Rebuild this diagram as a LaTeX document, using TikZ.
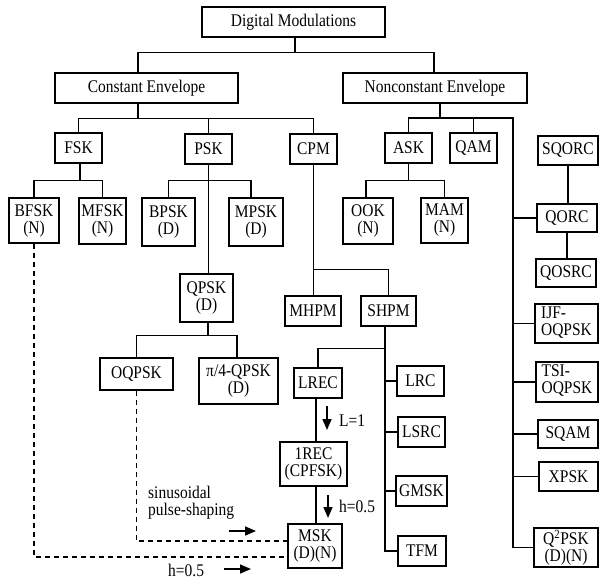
\documentclass[tikz,border=0pt]{standalone}
\usepackage{fontspec}
\setmainfont{Liberation Serif}[FakeStretch=0.87]
\usetikzlibrary{arrows.meta}
\tikzset{
  box/.style={draw, line width=1.4pt, inner sep=0pt, align=center, font=\fontsize{17.8}{17}\selectfont},
  lbl/.style={inner sep=0pt, align=left, anchor=west, font=\fontsize{17.8}{17}\selectfont},
  wire/.style={line width=1.4pt},
  dline/.style={line width=1.4pt, dash pattern=on 5pt off 4pt},
  arr/.style={line width=1.6pt, -{Triangle[length=11pt,width=9pt]}}
}
\begin{document}
\begin{tikzpicture}[x=1pt,y=-1pt]
\useasboundingbox (0,0) rectangle (600,581);
% nodes
\node[box, minimum width=183, minimum height=30] (dm) at (293.5,22) {Digital Modulations};
\node[box, minimum width=183, minimum height=30] (ce) at (146.5,88) {Constant Envelope};
\node[box, minimum width=184, minimum height=30] (ne) at (435,88) {Nonconstant Envelope};
\node[box, minimum width=47, minimum height=30] (fsk) at (78.5,148) {FSK};
\node[box, minimum width=47, minimum height=30] (psk) at (208.5,149) {PSK};
\node[box, minimum width=47, minimum height=30] (cpm) at (313.5,149) {CPM};
\node[box, minimum width=47, minimum height=30] (ask) at (408.5,148) {ASK};
\node[box, minimum width=47, minimum height=30] (qam) at (473.5,148) {QAM};
\node[box, minimum width=60, minimum height=29] (sqorc) at (568,150.5) {SQORC};
\node[box, minimum width=50, minimum height=45] (bfsk) at (34,220.5) {BFSK\\(N)};
\node[box, minimum width=47, minimum height=46] (mfsk) at (102.5,221) {MFSK\\(N)};
\node[box, minimum width=53, minimum height=48] (bpsk) at (168.5,222) {BPSK\\(D)};
\node[box, minimum width=54, minimum height=48] (mpsk) at (256,222) {MPSK\\(D)};
\node[box, minimum width=50, minimum height=46] (ook) at (368,221) {OOK\\(N)};
\node[box, minimum width=47, minimum height=45] (mam) at (444.5,220.5) {MAM\\(N)};
\node[box, minimum width=60, minimum height=28] (qorc) at (567,218) {QORC};
\node[box, minimum width=60, minimum height=28] (qosrc) at (566,273) {QOSRC};
\node[box, minimum width=53, minimum height=48] (qpsk) at (206.5,298) {QPSK\\(D)};
\node[box, minimum width=56, minimum height=30] (mhpm) at (313,311) {MHPM};
\node[box, minimum width=55, minimum height=30] (shpm) at (388.5,311) {SHPM};
\node[box, minimum width=63, minimum height=39] (ijf) at (566.5,323.5) {\begin{tabular}{@{}l@{}}IJF-\\OQPSK\end{tabular}};
\node[box, minimum width=73, minimum height=32] (oqpsk) at (136.5,374) {OQPSK};
\node[box, minimum width=79, minimum height=46] (pi4) at (238.5,381) {π/4-QPSK\\(D)};
\node[box, minimum width=48, minimum height=30] (lrec) at (318,383) {LREC};
\node[box, minimum width=47, minimum height=30] (lrc) at (420.5,381) {LRC};
\node[box, minimum width=62, minimum height=40] (tsi) at (567,382) {\begin{tabular}{@{}l@{}}TSI-\\OQPSK\end{tabular}};
\node[box, minimum width=47, minimum height=30] (lsrc) at (421.5,432) {LSRC};
\node[box, minimum width=60, minimum height=28] (sqam) at (568,434) {SQAM};
\node[box, minimum width=67, minimum height=44] (rec1) at (313.5,464) {1REC\\(CPFSK)};
\node[box, minimum width=59, minimum height=29] (xpsk) at (568.5,476.5) {XPSK};
\node[box, minimum width=51, minimum height=30] (gmsk) at (421.5,491) {GMSK};
\node[box, minimum width=54, minimum height=44] (msk) at (315,546) {MSK\\(D)(N)};
\node[box, minimum width=48, minimum height=30] (tfm) at (422,551) {TFM};
\node[box, minimum width=64, minimum height=39] (q2) at (566,547.5) {Q\textsuperscript{2}PSK\\(D)(N)};
% top level
\coordinate (d0) at ([xshift=1.5]dm.south);
\path (d0) ++(0,15) coordinate (j1);
\draw[wire] (d0) -- (j1);
\draw[wire] ([xshift=-8.5]ce.north) |- (j1) -| ([xshift=-1]ne.north);
% constant envelope bus
\coordinate (c0) at ([xshift=-8.5]ce.south);
\path (c0) ++(0,15) coordinate (j2);
\draw[wire] (c0) -- (j2);
\draw[wire] (fsk.north) |- (j2) -| (cpm.north);
\draw[wire] (psk.north) -- (psk.north |- j2);
% nonconstant envelope bus
\coordinate (n0) at ([xshift=5]ne.south);
\coordinate (rb) at (513,118);
\draw[wire] (n0) -- (n0 |- rb);
\draw[wire] (ask.north) |- (rb) |- (q2.west);
\draw[wire] (qam.north) -- (qam.north |- rb);
\draw[wire] (qorc.west -| rb) -- (qorc.west);
\draw[wire] (ijf.west -| rb) -- (ijf.west);
\draw[wire] (tsi.west -| rb) -- (tsi.west);
\draw[wire] (sqam.west -| rb) -- (sqam.west);
\draw[wire] (xpsk.west -| rb) -- (xpsk.west);
\draw[wire] (sqorc.south) -- (sqorc.south |- qorc.north);
\draw[wire] (qorc.south) -- (qorc.south |- qosrc.north);
% FSK
\coordinate (f0) at ([xshift=1.5]fsk.south);
\path (f0) ++(0,17) coordinate (j4);
\draw[wire] (f0) -- (j4);
\draw[wire] (bfsk.north) |- (j4) -| (mfsk.north);
% PSK
\draw[wire] (psk.south) -- (psk.south |- qpsk.north);
\path (psk.south) ++(0,16) coordinate (j5);
\draw[wire] (bpsk.north) |- (j5) -| ([xshift=-5]mpsk.north);
% QPSK
\coordinate (p0) at ([xshift=1.5]qpsk.south);
\path (p0) ++(0,13) coordinate (j6);
\draw[wire] (p0) -- (j6);
\draw[wire] (oqpsk.north) |- (j6) -| ([xshift=-1.5]pi4.north);
% ASK
\path (ask.south) ++(0,17) coordinate (j7);
\draw[wire] (ask.south) -- (j7);
\draw[wire] ([xshift=-2]ook.north) |- (j7) -| (mam.north);
% CPM
\draw[wire] (cpm.south) -- (cpm.south |- mhpm.north);
\path (cpm.south) ++(0,105) coordinate (j8);
\draw[wire] (j8) -| (shpm.north);
% SHPM
\coordinate (s0) at ([xshift=-3.5]shpm.south);
\draw[wire] (s0) |- (tfm.west);
\path (s0) ++(0,22) coordinate (j9);
\draw[wire] (j9) -| (lrec.north);
\draw[wire] (lrc.west -| s0) -- (lrc.west);
\draw[wire] (lsrc.west -| s0) -- (lsrc.west);
\draw[wire] (gmsk.west -| s0) -- (gmsk.west);
% LREC chain
\coordinate (l0) at ([xshift=-2]lrec.south);
\draw[wire] (l0) -- (l0 |- rec1.north);
\coordinate (r0) at ([xshift=2.5]rec1.south);
\draw[wire] (r0) -- (r0 |- msk.north);
\draw[arr] (327,406) -- (327,430);
\node[lbl] (tL) at (339,421) {L=1};
\draw[arr] (328,495) -- (328,518);
\node[lbl] (th1) at (339,506) {h=0.5};
% dashed
\coordinate (m1) at ([yshift=5]msk.west);
\coordinate (m2) at ([yshift=-11]msk.west);
\draw[dline] (oqpsk.south) |- (m1);
\draw[dline] (bfsk.south) |- (m2);
\node[lbl] (ts) at (148,503) {sinusoidal\\pulse-shaping};
\draw[arr] (229,531) -- (256,531);
\node[lbl] (th2) at (168,570) {h=0.5};
\draw[arr] (224,569) -- (251,569);
\end{tikzpicture}
\end{document}
